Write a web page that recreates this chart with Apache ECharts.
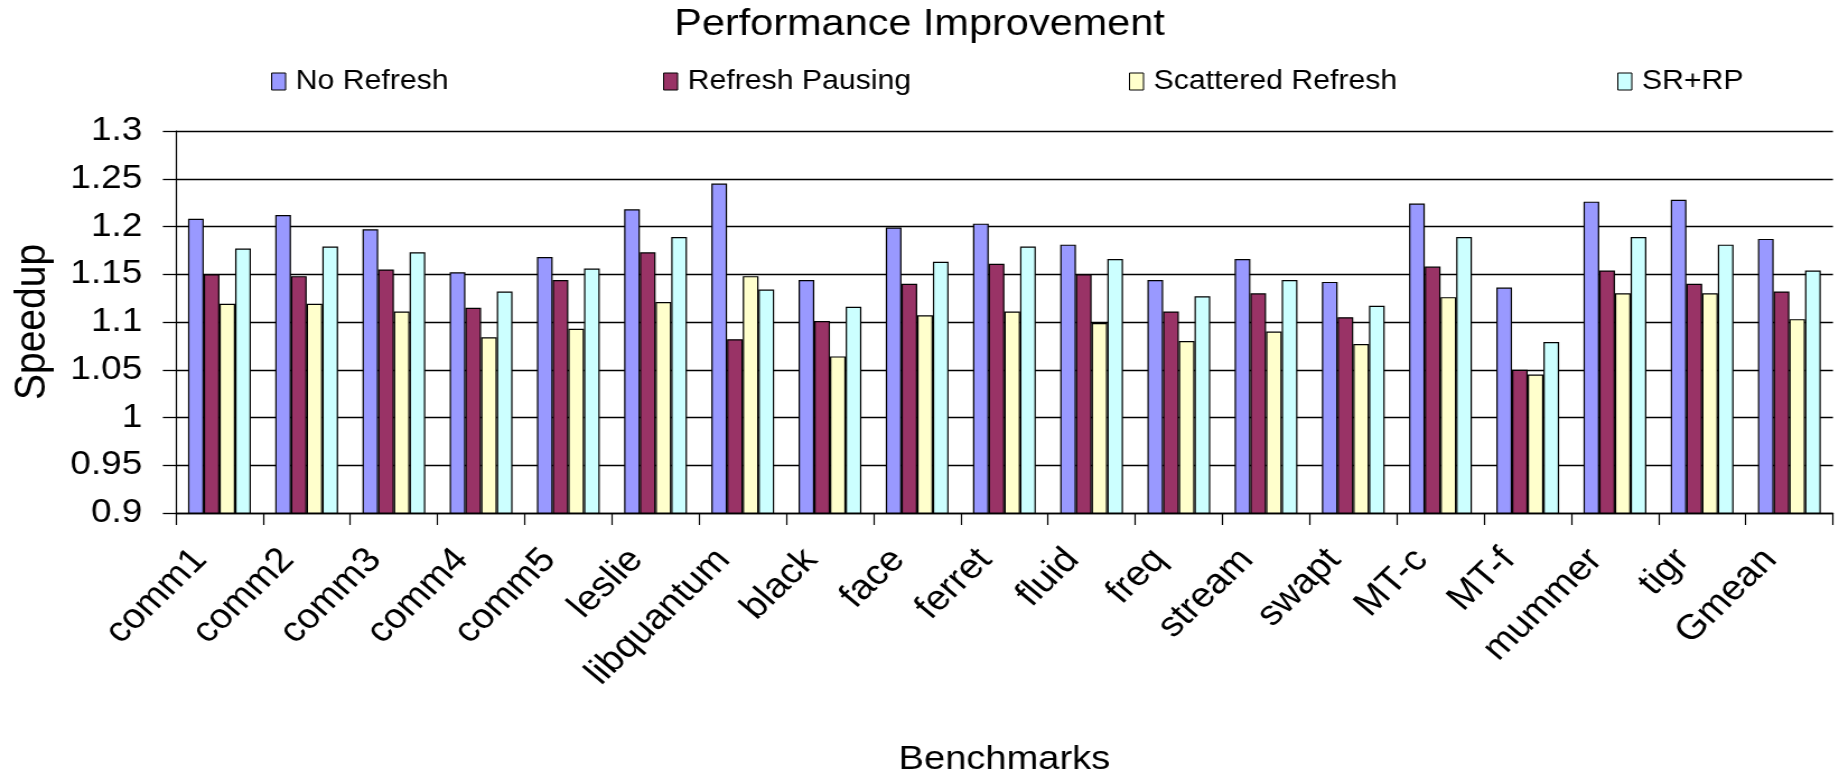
<!DOCTYPE html>
<html>
<head>
<meta charset="utf-8">
<script src="https://cdn.jsdelivr.net/npm/echarts@6/dist/echarts.min.js"></script>
<style>
  html, body { margin: 0; padding: 0; background: #fff; }
  #wrap { width: 1839px; height: 782px; overflow: hidden; }
  /* the figure is drawn on a narrower canvas and widened, giving the broad lettering of the original figure */
  #chart { width: 1642px; height: 782px; transform: scaleX(1.11998); transform-origin: 0 0; }
</style>
</head>
<body>
<div id="wrap"><div id="chart"></div></div>
<script>
// Benchmarks on the x axis
const benchmarks = ['comm1', 'comm2', 'comm3', 'comm4', 'comm5', 'leslie', 'libquantum',
  'black', 'face', 'ferret', 'fluid', 'freq', 'stream', 'swapt', 'MT-c', 'MT-f',
  'mummer', 'tigr', 'Gmean'];

// Speedup of each scheme per benchmark
const noRefresh = [1.208, 1.212, 1.197, 1.152, 1.168, 1.218, 1.245, 1.144, 1.199, 1.203,
  1.181, 1.144, 1.166, 1.142, 1.224, 1.136, 1.226, 1.228, 1.187];
const refreshPausing = [1.150, 1.148, 1.155, 1.115, 1.144, 1.173, 1.082, 1.101, 1.140, 1.161,
  1.150, 1.111, 1.130, 1.105, 1.158, 1.050, 1.154, 1.140, 1.132];
const scatteredRefresh = [1.119, 1.119, 1.111, 1.084, 1.093, 1.121, 1.148, 1.064, 1.107, 1.111,
  1.099, 1.080, 1.090, 1.077, 1.126, 1.045, 1.130, 1.130, 1.103];
const srPlusRp = [1.177, 1.179, 1.173, 1.132, 1.156, 1.189, 1.134, 1.116, 1.163, 1.179,
  1.166, 1.127, 1.144, 1.117, 1.189, 1.079, 1.189, 1.181, 1.154];

const seriesNames = ['No Refresh', 'Refresh Pausing', 'Scattered Refresh', 'SR+RP'];
const seriesValues = [noRefresh, refreshPausing, scatteredRefresh, srPlusRp];
const seriesColors = ['#9999FF', '#993366', '#FFFFCC', '#CCFFFF'];

// Y axis range and step
const yMin = 0.9, yMax = 1.3, yStep = 0.05;

const FONT = '"Liberation Sans", Arial, sans-serif';
const legendLeft = [242, 592, 1008, 1444];

const chart = echarts.init(document.getElementById('chart'), null, { renderer: 'canvas' });

chart.setOption({
  animation: false,
  backgroundColor: '#ffffff',
  textStyle: { fontFamily: FONT, color: '#000' },
  title: {
    text: 'Performance Improvement',
    left: 602,
    top: 6,
    padding: 0,
    textStyle: { fontFamily: FONT, fontSize: 37, fontWeight: 'normal', color: '#000' }
  },
  legend: seriesNames.map((name, i) => ({
    data: [name],
    left: legendLeft[i],
    top: 68,
    padding: 0,
    icon: 'rect',
    itemWidth: 12.5,
    itemHeight: 17,
    selectedMode: false,
    itemStyle: { borderColor: '#000', borderWidth: 1 },
    textStyle: { fontFamily: FONT, fontSize: 27, color: '#000', padding: [0, 0, 0, 4] }
  })),
  grid: { left: 157, right: 5.4, top: 131, bottom: 256, containLabel: false },
  xAxis: {
    type: 'category',
    data: benchmarks,
    name: 'Benchmarks',
    nameLocation: 'middle',
    nameGap: 230,
    nameTextStyle: { fontFamily: FONT, fontSize: 34, color: '#000', verticalAlign: 'top' },
    axisLine: { lineStyle: { color: '#000', width: 1.3 } },
    axisTick: { show: true, length: 12, lineStyle: { color: '#000', width: 1.2 } },
    axisLabel: {
      rotate: 47,
      margin: 23,
      padding: [0, 25, 0, 0],
      interval: 0,
      fontFamily: FONT,
      fontSize: 35,
      color: '#000'
    },
    splitLine: { show: false }
  },
  yAxis: {
    type: 'value',
    min: yMin,
    max: yMax,
    interval: yStep,
    name: 'Speedup',
    nameLocation: 'middle',
    nameGap: 108,
    nameTextStyle: { fontFamily: FONT, fontSize: 39, color: '#000' },
    axisLine: { show: true, lineStyle: { color: '#000', width: 1.2 } },
    axisTick: { show: true, length: 11.6, lineStyle: { color: '#000', width: 1.3 } },
    axisLabel: {
      margin: 30,
      fontFamily: FONT,
      fontSize: 33,
      color: '#000',
      formatter: v => String(+v.toFixed(2))
    },
    splitLine: { show: true, lineStyle: { color: '#000', width: 1.3 } }
  },
  series: seriesNames.map((name, i) => ({
    name,
    type: 'bar',
    data: seriesValues[i],
    barGap: '0%',
    barCategoryGap: '28%',
    itemStyle: { color: seriesColors[i], borderColor: '#000', borderWidth: 1.2 }
  }))
});
</script>
</body>
</html>
